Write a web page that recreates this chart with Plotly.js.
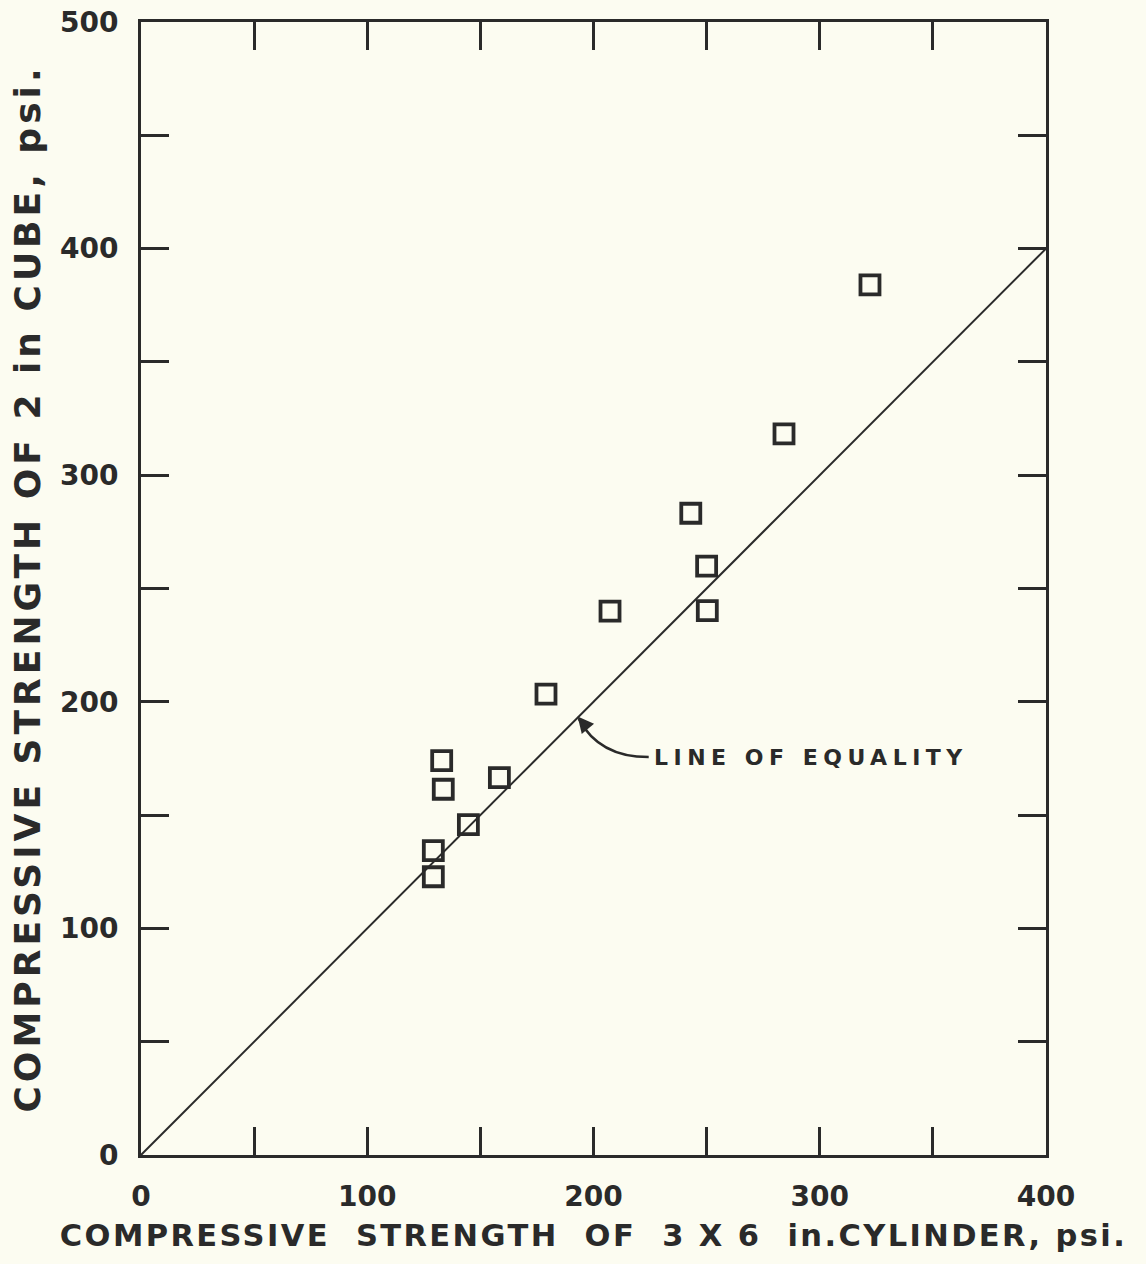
<!DOCTYPE html>
<html>
<head>
<meta charset="utf-8">
<script src="https://cdn.plot.ly/plotly-3.0.1.min.js"></script>
<style>
  html, body { margin: 0; padding: 0; background: #fcfcf1; }
  #chart { width: 1146px; height: 1264px; }
  .xtitle { letter-spacing: 2.4px; }
  .ytitle { letter-spacing: 4px; }
  .annotation-text { letter-spacing: 5.5px; }
</style>
</head>
<body>
<div id="chart"></div>
<script>
// Compressive strength of 3x6 in. cylinders vs 2 in. cubes (psi)
const cylinderStrength = [129.2, 129.2, 133.6, 132.9, 144.7, 158.4, 179, 207.3, 243, 250, 250.3, 284.2, 322.2];
const cubeStrength     = [122.8, 134.3, 161.4, 174.0, 145.8, 166.5, 203.4, 240, 283.2, 259.9, 240.2, 318.2, 384];

// Line of equality end points
const equalityX = [0, 400];
const equalityY = [0, 400];

// Tick positions every 50 psi, labelled every 100
const xTickVals = [0, 50, 100, 150, 200, 250, 300, 350, 400];
const xTickText = ['0', '', '100', '', '200', '', '300', '', '400'];
const yTickVals = [0, 50, 100, 150, 200, 250, 300, 350, 400, 450, 500];
const yTickText = ['0', '', '100', '', '200', '', '300', '', '400', '', '500'];

// Callout label and the curved leader pointing at the equality line
const calloutText = 'LINE OF EQUALITY';
const calloutPos = [296, 175.5];
const leaderStart = [224.4, 175.6];
const leaderCtrl = [202.4, 175.6];
const leaderEnd = [193.5, 192.5];

const ink = '#2a2a2a';
const font = 'DejaVu Sans, sans-serif';

const traces = [
  {
    x: equalityX, y: equalityY,
    mode: 'lines', type: 'scatter',
    line: { color: ink, width: 2 },
    hoverinfo: 'skip'
  },
  {
    x: cylinderStrength, y: cubeStrength,
    mode: 'markers', type: 'scatter',
    marker: { symbol: 'square-open', size: 19, color: ink, line: { width: 3.8, color: ink } }
  }
];

const axisCommon = {
  showgrid: false, zeroline: false,
  showline: true, linecolor: ink, linewidth: 3, mirror: 'ticks',
  ticks: 'inside', ticklen: 28, tickwidth: 3, tickcolor: ink,
  tickmode: 'array',
  tickfont: { family: font, size: 28, color: ink, weight: 'bold' },
  fixedrange: true
};

const layout = {
  width: 1146, height: 1264,
  paper_bgcolor: '#fcfcf1', plot_bgcolor: '#fcfcf1',
  showlegend: false,
  margin: { l: 141, r: 100, t: 22, b: 109 },
  xaxis: Object.assign({}, axisCommon, {
    range: [0, 400],
    tickvals: xTickVals, ticktext: xTickText,
    ticklabelstandoff: 14,
    title: {
      text: 'COMPRESSIVE\u00a0\u00a0STRENGTH\u00a0\u00a0OF\u00a0\u00a03\u00a0X\u00a06\u00a0\u00a0in.CYLINDER,\u00a0psi.\u00a0\u00a0',
      font: { family: font, size: 30.5, color: ink, weight: 'bold' },
      standoff: 14
    }
  }),
  yaxis: Object.assign({}, axisCommon, {
    range: [0, 500],
    tickvals: yTickVals, ticktext: yTickText,
    ticklabelstandoff: 14,
    title: {
      text: '\u00a0COMPRESSIVE STRENGTH OF 2 in CUBE, psi.',
      font: { family: font, size: 36, color: ink, weight: 'bold' },
      standoff: 9
    }
  }),
  shapes: [
    {
      type: 'path', xref: 'x', yref: 'y',
      path: 'M ' + leaderStart[0] + ',' + leaderStart[1] +
            ' Q ' + leaderCtrl[0] + ',' + leaderCtrl[1] +
            ' ' + leaderEnd[0] + ',' + leaderEnd[1],
      line: { color: ink, width: 2.5 }
    }
  ],
  annotations: [
    {
      x: calloutPos[0], y: calloutPos[1], xref: 'x', yref: 'y',
      text: calloutText, showarrow: false,
      font: { family: font, size: 22, color: ink, weight: 'bold' }
    },
    {
      x: leaderEnd[0] - 0.5, y: leaderEnd[1] + 1, xref: 'x', yref: 'y',
      ax: 10, ay: 12, text: '', showarrow: true,
      arrowhead: 2, arrowsize: 1.6, arrowwidth: 2, arrowcolor: ink
    }
  ]
};

Plotly.newPlot('chart', traces, layout, { staticPlot: true });
</script>
</body>
</html>
